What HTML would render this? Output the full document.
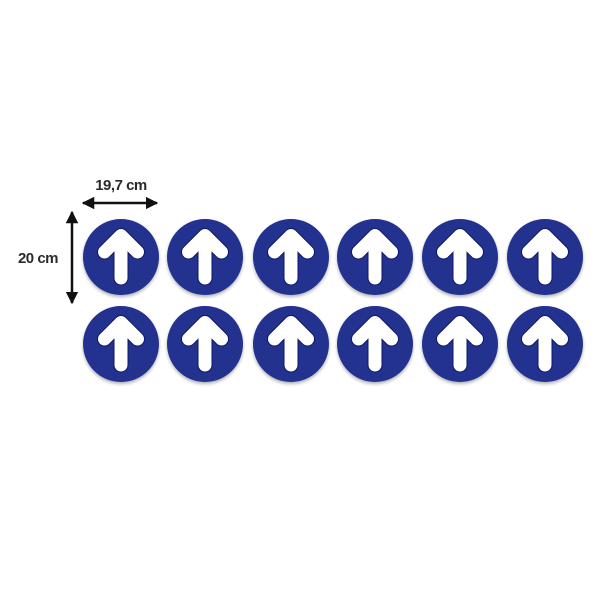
<!DOCTYPE html>
<html><head><meta charset="utf-8"><style>
html,body{margin:0;padding:0;background:#fff;}
svg{display:block}
</style></head><body>
<svg width="600" height="600" viewBox="0 0 600 600" xmlns="http://www.w3.org/2000/svg">
<defs>
<filter id="sh" x="-20%" y="-20%" width="140%" height="150%">
<feDropShadow dx="0" dy="2" stdDeviation="1.5" flood-color="#000" flood-opacity="0.3"/>
</filter>
<g id="b">
<circle cx="0" cy="0" r="38" fill="#24318e" filter="url(#sh)"/>
<g fill="none" stroke-linecap="round" stroke-linejoin="round">
<path d="M-16.5,-5 L0,-21.5 L16.5,-5 M0,-21 L0,21" stroke="#0d1766" stroke-width="15"/>
<path d="M-16.5,-5 L0,-21.5 L16.5,-5 M0,-21 L0,21" stroke="#fff" stroke-width="13"/>
</g>
</g>
<marker id="ah" viewBox="0 0 10 10" refX="9" refY="5" markerWidth="5" markerHeight="5" orient="auto-start-reverse">
<path d="M0,0 L10,5 L0,10 z" fill="#111"/>
</marker>
</defs>
<g>
<use href="#b" x="121" y="257"/><use href="#b" x="205" y="257"/><use href="#b" x="291" y="257"/>
<use href="#b" x="375" y="257"/><use href="#b" x="460" y="257"/><use href="#b" x="545" y="257"/>
<use href="#b" x="121" y="344"/><use href="#b" x="205" y="344"/><use href="#b" x="291" y="344"/>
<use href="#b" x="375" y="344"/><use href="#b" x="460" y="344"/><use href="#b" x="545" y="344"/>
</g>
<line x1="83" y1="203" x2="157" y2="203" stroke="#111" stroke-width="2.5" marker-start="url(#ah)" marker-end="url(#ah)"/>
<line x1="72" y1="212" x2="72" y2="303" stroke="#111" stroke-width="2.5" marker-start="url(#ah)" marker-end="url(#ah)"/>
<text x="121" y="190" text-anchor="middle" font-family="Liberation Sans, sans-serif" font-weight="bold" font-size="15" letter-spacing="-0.5" fill="#2a2a2a">19,7 cm</text>
<text x="38" y="263" text-anchor="middle" font-family="Liberation Sans, sans-serif" font-weight="bold" font-size="15" letter-spacing="-0.5" fill="#2a2a2a">20 cm</text>
</svg>
</body></html>
